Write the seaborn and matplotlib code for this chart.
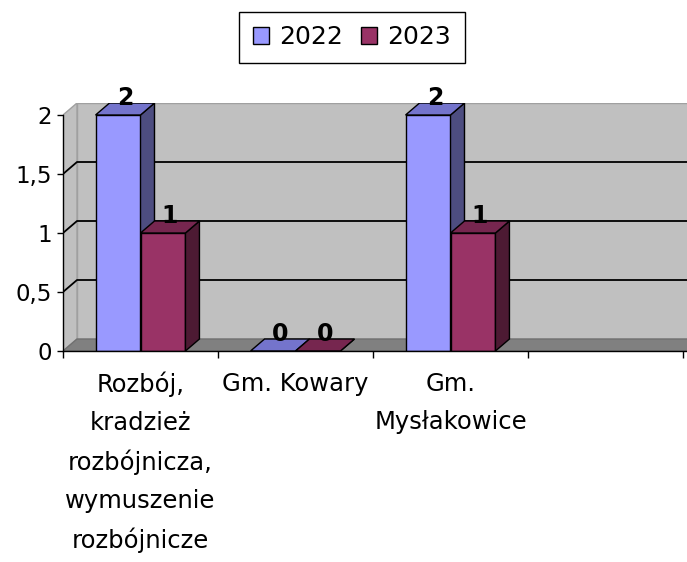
import numpy as np
import pandas as pd
import matplotlib
matplotlib.use("Agg")
import matplotlib.pyplot as plt
from matplotlib.patches import Polygon
from matplotlib.colors import to_hex
import seaborn as sns

# data
categories = ["Rozbój,\nkradzież\nrozbójnicza,\nwymuszenie\nrozbójnicze",
              "Gm. Kowary", "Gm.\nMysłakowice", ""]
years = ["2022", "2023"]
values_2022 = [2, 0, 2]
values_2023 = [1, 0, 1]
y_ticks = [0, 0.5, 1, 1.5, 2]
y_labels = ["0", "0,5", "1", "1,5", "2"]

colors_front = ["#9999FF", "#993366"]
colors_side = ["#4D4D80", "#4D1A33"]
colors_top = ["#7474CC", "#76264F"]

df = pd.DataFrame({
    "kategoria": categories[:3] * 2,
    "rok": [years[0]] * 3 + [years[1]] * 3,
    "liczba": values_2022 + values_2023,
})

sns.set_style("white")
plt.rcParams["font.family"] = ["DejaVu Sans"]
plt.rcParams["text.color"] = "black"
plt.rcParams["xtick.color"] = "black"
plt.rcParams["ytick.color"] = "black"

W, H = 687, 562
fig = plt.figure(figsize=(W / 100, H / 100), dpi=100)

# pixel geometry of the front plane and the depth of the 3d box
x0_px, x1_px = 63, 683
y0_px, y2_px = 351, 115
dx_px, dy_px = 14, 12
unit_x = (x1_px - x0_px) / 4
unit_y = (y0_px - y2_px) / 2
dx = dx_px / unit_x
dy = dy_px / unit_y
top_px = y2_px - dy_px
ax = fig.add_axes([x0_px / W, 1 - y0_px / H,
                   (x1_px + dx_px - x0_px) / W, (y0_px - top_px) / H])

sns.barplot(data=df, x="kategoria", y="liczba", hue="rok", order=categories,
            hue_order=years, palette=colors_front, saturation=1, width=0.58,
            errorbar=None, edgecolor="black", linewidth=1, ax=ax)
bars = sorted([p for p in ax.patches if p.get_width() > 0], key=lambda p: p.get_x())

ax.set_xlim(-0.5, 3.5 + dx)
ax.set_ylim(0, 2 + dy)

# walls and floor
wall = "#C0C0C0"
ax.add_patch(Polygon([(-0.5 + dx, dy), (3.5 + dx, dy), (3.5 + dx, 2 + dy), (-0.5 + dx, 2 + dy)],
                     facecolor=wall, edgecolor="#A0A0A0", lw=1, zorder=0))
ax.add_patch(Polygon([(-0.5, 0), (-0.5 + dx, dy), (-0.5 + dx, 2 + dy), (-0.5, 2)],
                     facecolor=wall, edgecolor="#A0A0A0", lw=1, zorder=0))
ax.add_patch(Polygon([(-0.5, 0), (3.5 + 0.03, 0), (3.5 + 0.03 + dx, dy), (-0.5 + dx, dy)],
                     facecolor="#808080", edgecolor="#707070", lw=1, zorder=0.2))
for v in [0.5, 1, 1.5]:
    ax.plot([-0.5, -0.5 + dx, 3.5 + dx], [v, v + dy, v + dy], color="black", lw=1.3, zorder=0.5)

# 3d faces of the bars
for k, p in enumerate(bars):
    fc = to_hex(p.get_facecolor()).upper()
    i = colors_front.index(fc) if fc in colors_front else 0
    xa = p.get_x()
    xb = xa + p.get_width()
    h = p.get_height()
    z = 2 + 0.01 * k
    p.set_zorder(z)
    ax.add_patch(Polygon([(xb, 0), (xb + dx, dy), (xb + dx, h + dy), (xb, h)],
                         facecolor=colors_side[i], edgecolor="black", lw=1, zorder=z))
    ax.add_patch(Polygon([(xa, h), (xb, h), (xb + dx, h + dy), (xa + dx, h + dy)],
                         facecolor=colors_top[i], edgecolor="black", lw=1, zorder=z))
    ax.annotate(f"{h:g}", xy=((xa + xb) / 2 + dx / 2, h + dy / 2), xytext=(0, 8),
                textcoords="offset points", ha="center", va="center", fontsize=17,
                fontweight="bold", zorder=10, annotation_clip=False)

# axes
for s in ["top", "right"]:
    ax.spines[s].set_visible(False)
ax.spines["left"].set_bounds(0, 2)
ax.spines["bottom"].set_bounds(-0.5, 3.53)
for s in ["left", "bottom"]:
    ax.spines[s].set_color("black")
    ax.spines[s].set_linewidth(1)
    ax.spines[s].set_zorder(5)

ax.set_yticks(y_ticks, y_labels)
ax.tick_params(axis="y", left=True, direction="out", length=4, width=1, pad=4, labelsize=16.5)
ax.set_xticks([-0.5, 0.5, 1.5, 2.5, 3.5], [""] * 5)
ax.set_xticks([0, 1, 2], categories[:3], minor=True)
ax.tick_params(axis="x", which="major", bottom=True, direction="out", length=5, width=1)
ax.tick_params(axis="x", which="minor", bottom=True, length=0, pad=15, labelsize=17.5)
for lab in ax.get_xticklabels(minor=True):
    lab.set_linespacing(1.72)
ax.set_xlabel("")
ax.set_ylabel("")
ax.patch.set_alpha(0)

handles, labels = ax.get_legend_handles_labels()
if ax.get_legend() is not None:
    ax.get_legend().remove()
for hd in handles:
    hd.set_edgecolor("black")
leg = fig.legend(handles, labels, loc="center", bbox_to_anchor=(352 / W, 1 - 37.5 / H),
                 ncol=2, frameon=True, fancybox=False, edgecolor="black", fontsize=18,
                 handlelength=0.65, handleheight=0.65, handletextpad=0.4,
                 columnspacing=0.7, borderpad=0.55, framealpha=1)
leg.get_frame().set_linewidth(1)

fig.savefig("out.png", dpi=100)
